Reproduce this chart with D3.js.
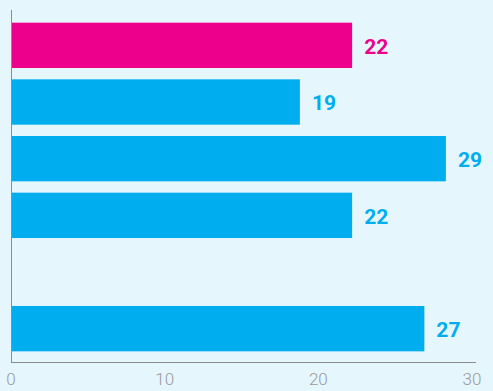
<!DOCTYPE html>
<html>
<head>
<meta charset="utf-8">
<script src="https://d3js.org/d3.v7.min.js"></script>
<style>
  html, body { margin: 0; padding: 0; background: #e6f6fd; }
  svg { display: block; }
</style>
</head>
<body>
<svg width="493" height="391"></svg>
<script>
const categories = ["A", "B", "C", "D", "E", "F"];
const values = [22.2, 18.8, 28.3, 22.2, null, 26.9];
const labels = ["22", "19", "29", "22", "", "27"];
const colors = ["#ec008c", "#00aeef", "#00aeef", "#00aeef", "#00aeef", "#00aeef"];
const ticks = [0, 10, 20, 30];

const svg = d3.select("svg");

const x = d3.scaleLinear().domain([0, 30]).range([11, 472]);
const y = d3.scaleBand().domain(categories).range([17, 357])
    .paddingInner(0.2).paddingOuter(0.1);

const rows = categories.map((c, i) => ({ c, v: values[i], label: labels[i], color: colors[i] }))
    .filter(d => d.v != null);

svg.append("g")
    .selectAll("rect")
    .data(rows)
    .join("rect")
    .attr("x", x(0))
    .attr("y", d => y(d.c))
    .attr("width", d => x(d.v) - x(0))
    .attr("height", y.bandwidth())
    .attr("fill", d => d.color);

svg.append("g")
    .selectAll("text")
    .data(rows)
    .join("text")
    .attr("x", d => x(d.v) + 12)
    .attr("y", d => y(d.c) + y.bandwidth() / 2 + 1)
    .attr("dy", "0.35em")
    .attr("fill", d => d.color)
    .style("font-family", "Roboto")
    .style("font-weight", 700)
    .style("font-size", "21px")
    .text(d => d.label);

// axis lines
svg.append("line")
    .attr("x1", 11.5).attr("x2", 11.5)
    .attr("y1", 10).attr("y2", 362.5)
    .attr("stroke", "#8c8c8c");
svg.append("line")
    .attr("x1", 11).attr("x2", 476)
    .attr("y1", 362.5).attr("y2", 362.5)
    .attr("stroke", "#8c8c8c");

svg.append("g")
    .selectAll("text")
    .data(ticks)
    .join("text")
    .attr("x", d => x(d))
    .attr("y", 385)
    .attr("text-anchor", "middle")
    .attr("fill", "#9a9a9a")
    .style("font-family", "Roboto")
    .style("font-weight", 300)
    .style("font-size", "17px")
    .text(d => d);
</script>
</body>
</html>
